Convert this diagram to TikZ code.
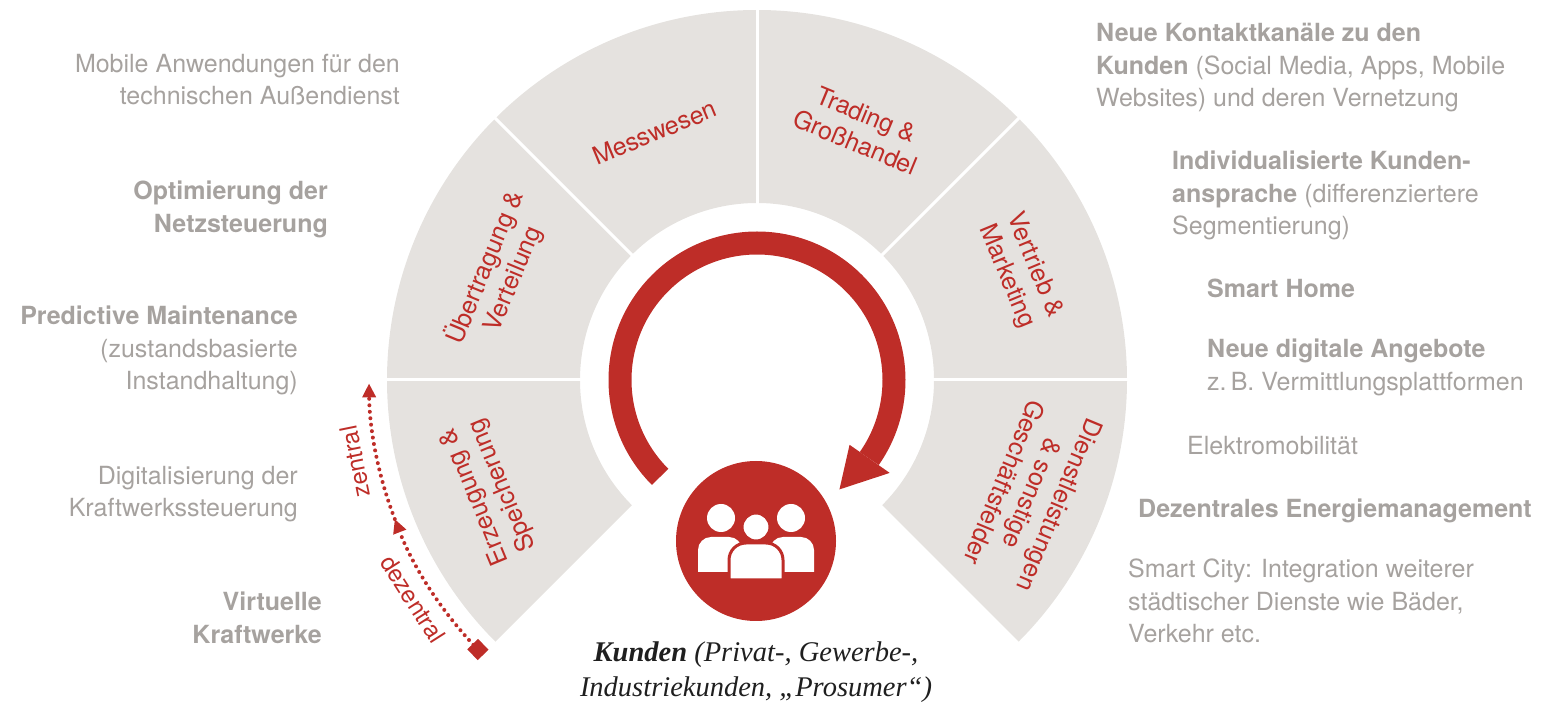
\documentclass[tikz,border=0pt]{standalone}
\usepackage{fontspec}
\setmainfont{TeX Gyre Heros}
\newfontfamily\kundenfont{Liberation Serif}
\usetikzlibrary{arrows.meta}
\definecolor{kred}{RGB}{190,45,40}
\definecolor{sgrey}{RGB}{229,226,223}
\definecolor{tgrey}{RGB}{166,162,159}

\begin{document}
\begin{tikzpicture}[
  x=1pt, y=1pt,
  sector/.style={fill=sgrey},
  sepline/.style={white, line width=3pt},
  seclabel/.style={
    text=kred, align=center, inner sep=0pt,
    font=\fontsize{25}{30}\selectfont
  },
  sidetext/.style={
    text=tgrey, inner sep=0pt,
    font=\fontsize{25}{32.5}\selectfont
  },
  dotline/.style={
    kred, line width=4pt, line cap=round,
    dash pattern=on 0pt off 6.5pt
  },
  axislabel/.style={text=kred, inner sep=0pt, font=\fontsize{24}{28}\selectfont}
]
  \useasboundingbox (0,0) rectangle (1543,702);

  % ring of value chain sectors
  \begin{scope}[shift={(757,322)}]
    \coordinate (C) at (0,0);
    \foreach \a in {180,135,90,45,0,-45} {
      \fill[sector] (\a:177) -- (\a:370) arc[start angle=\a, end angle=\a+45, radius=370]
        -- (\a+45:177) arc[start angle=\a+45, end angle=\a, radius=177] -- cycle;
    }
    \foreach \a in {0,45,90,135,180} {
      \draw[sepline] (\a:174) -- (\a:373);
    }
    \foreach \a/\rr/\txt [count=\i] in {
      180/290/{Erzeugung \&\\Speicherung},
      135/280/{Übertragung \&\\Verteilung},
      90/268/{Messwesen},
      45/272/{Trading \&\\Großhandel},
      0/285/{Vertrieb \&\\Marketing},
      -45/298/{Dienstleistungen\\\& sonstige\\Geschäftsfelder}} {
      \pgfmathsetmacro\m{\a+22.5}
      \pgfmathsetmacro\rot{\m-90}
      \node[seclabel, rotate=\rot] (sec\i) at (\m:\rr) {\txt};
    }

    % cycle arrow
    \draw[kred, line width=23pt] (225:137) arc[start angle=225, end angle=-35, radius=137];
    \fill[kred] (-35:162) -- (-53:137) -- (-35:113) -- cycle;

    % zentral / dezentral
    \path (224:388) coordinate (dz) (201:388) coordinate (dm) (180.5:388) coordinate (zt);
    \draw[dotline, -{Triangle[length=14pt,width=13pt]}] (dz) arc[start angle=224, end angle=201, radius=388];
    \draw[dotline, -{Triangle[length=14pt,width=13pt]}] (dm) arc[start angle=201, end angle=180.5, radius=388];
    \node[fill=kred, minimum size=15pt, inner sep=0pt, rotate=44] (sq) at (dz) {};
    \node[axislabel, rotate=101.5] (zentral) at (191.5:410) {zentral};
    \node[axislabel, rotate=-57.5] (dezentral) at (212.5:408) {dezentral};
  \end{scope}

  % customers
  \node[circle, fill=kred, minimum size=160pt, inner sep=0pt] (kunde) at (756,161) {};
  \begin{scope}[shift={(kunde.center)}]
    \foreach \s in {-35,35} {
      \fill[white] (\s,23) circle[radius=14];
    }
    \foreach \xl/\xr in {-58/-14,14/58} {
      \fill[white] (\xl,-31) -- (\xl,-9) arc[start angle=180, end angle=90, radius=13]
        -- ({\xr-13},4) arc[start angle=90, end angle=0, radius=13] -- (\xr,-31) -- cycle;
    }
    \filldraw[fill=white, draw=kred, line width=3pt] (0,14) circle[radius=14];
    \filldraw[fill=white, draw=kred, line width=3pt] (-27,-39) -- (-27,-19)
      arc[start angle=180, end angle=90, radius=17] -- (10,-2)
      arc[start angle=90, end angle=0, radius=17] -- (27,-39) -- cycle;
  \end{scope}
  \node[anchor=north, align=center, inner sep=0pt, text=black!88,
    font=\kundenfont\itshape\fontsize{28.5}{35}\selectfont] (klabel) at (756,60)
    {\textbf{Kunden} (Privat-, Gewerbe-,\\Industriekunden, „Prosumer“)};

  % left side
  \node[sidetext, anchor=north east, align=right] (mobil) at (400,648)
    {Mobile Anwendungen für den\\technischen Außendienst};
  \node[sidetext, anchor=north east, align=right] (netz) at (328,521)
    {\textbf{Optimierung der}\\\textbf{Netzsteuerung}};
  \node[sidetext, anchor=north east, align=right] (predict) at (298,396)
    {\textbf{Predictive Maintenance}\\(zustandsbasierte\\Instandhaltung)};
  \node[sidetext, anchor=north east, align=right] (kwsteuer) at (298,236)
    {Digitalisierung der\\Kraftwerkssteuerung};
  \node[sidetext, anchor=north east, align=right] (virtuell) at (322,110)
    {\textbf{Virtuelle}\\\textbf{Kraftwerke}};

  % right side
  \node[sidetext, anchor=north west, align=left] (kanal) at (1096,679)
    {\textbf{Neue Kontaktkanäle zu den}\\\textbf{Kunden} (Social Media, Apps, Mobile\\Websites) und deren Vernetzung};
  \node[sidetext, anchor=north west, align=left] (indiv) at (1172,551)
    {\textbf{Individualisierte Kunden-}\\\textbf{ansprache} (differenziertere\\Segmentierung)};
  \node[sidetext, anchor=north west, align=left] (home) at (1207,423)
    {\textbf{Smart Home}};
  \node[sidetext, anchor=north west, align=left] (angebot) at (1207,363)
    {\textbf{Neue digitale Angebote}\\z.\,B. Vermittlungsplattformen};
  \node[sidetext, anchor=north west, align=left] (emob) at (1187,266)
    {Elektromobilität};
  \node[sidetext, anchor=north west, align=left] (energie) at (1138,203)
    {\textbf{Dezentrales Energiemanagement}};
  \node[sidetext, anchor=north west, align=left] (city) at (1128,143)
    {Smart City: Integration weiterer\\städtischer Dienste wie Bäder,\\Verkehr etc.};
\end{tikzpicture}
\end{document}
